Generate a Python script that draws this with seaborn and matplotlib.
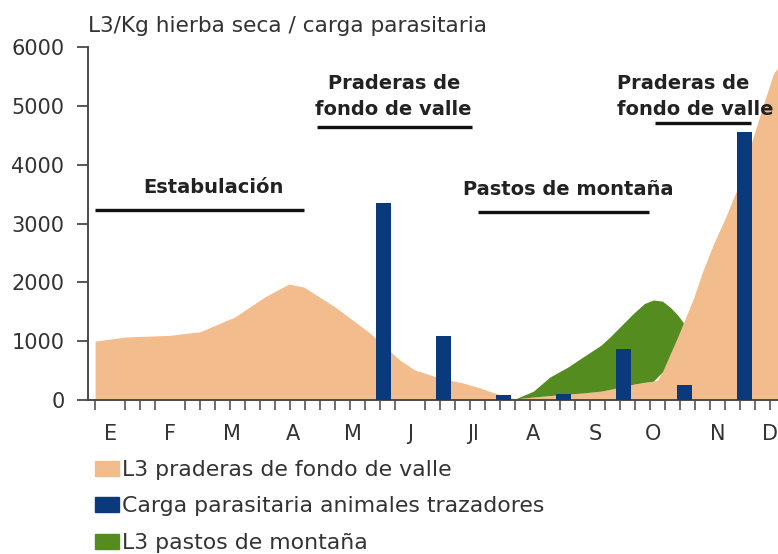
import matplotlib
matplotlib.use("Agg")
import matplotlib.pyplot as plt
import matplotlib.patches as mpatches
import seaborn as sns
import numpy as np

# ---- data (x in weeks from start of January) ----
months = ["E", "F", "M", "A", "M", "J", "Jl", "A", "S", "O", "N", "D"]
month_pos = [1.0, 5.0, 9.1, 13.2, 17.2, 21.0, 25.2, 29.2, 33.3, 37.2, 41.5, 44.95]

valley_x = [0, 2, 5, 7, 9.3, 11.3, 12.9, 13.9, 16, 18.3, 20.3, 21.3, 23, 24.5, 25.7,
            27, 28, 29.2, 31.5, 33.7, 35.9, 37.2, 37.5, 38.3, 39.2, 39.9, 40.5,
            41.2, 42.0, 42.8, 43.7, 44.5, 45.2, 45.5]
valley_y = [1000, 1070, 1100, 1160, 1410, 1750, 1970, 1920, 1580, 1140, 680, 510, 370, 290, 200,
            85, 20, 50, 100, 150, 270, 320, 340, 770, 1310, 1750, 2200,
            2650, 3100, 3600, 4350, 5000, 5550, 5650]

mountain_x = [28.0, 29.2, 30.3, 31.5, 32.5, 33.7, 34.3, 35.9, 36.6, 37.2, 37.8, 38.3, 38.8, 39.2]
mountain_hi = [20, 150, 390, 560, 730, 930, 1070, 1480, 1640, 1700, 1680, 1580, 1450, 1310]
mountain_lo = [20, 50, 75, 100, 120, 150, 180, 270, 300, 320, 480, 770, 1060, 1310]

bar_x = [19.2, 23.2, 27.2, 31.2, 35.2, 39.3, 43.3]
bar_y = [3350, 1080, 80, 100, 870, 260, 4560]

yticks = [0, 1000, 2000, 3000, 4000, 5000, 6000]

labels_legend = ["L3 praderas de fondo de valle",
                 "Carga parasitaria animales trazadores",
                 "L3 pastos de montaña"]

periods = [
    # (text, text_x, text_y, ha, line_x0, line_x1, line_y)
    ("Estabulación", 7.9, 3520, "center", 0.0, 13.9, 3230),
    ("Praderas de\nfondo de valle", 19.9, 4840, "center", 14.8, 25.1, 4640),
    ("Pastos de montaña", 31.5, 3490, "center", 25.5, 36.9, 3200),
    ("Praderas de\nfondo de valle", 34.8, 4840, "left", 37.3, 43.7, 4710),
]

c_orange = "#F2BC8C"
c_navy = "#0A3A7C"
c_green = "#558C1F"
c_axis = "#4a4a4a"

sns.set_style("white")
plt.rcParams["font.family"] = ["DejaVu Sans"]

fig = plt.figure(figsize=(7.78, 5.54), dpi=100)
ax = fig.add_axes([88 / 778, 1 - 400 / 554, 1 - 88 / 778, (400 - 47) / 554])

ax.fill_between(valley_x, 0, valley_y, color=c_orange, lw=0, zorder=1)
ax.fill_between(mountain_x, mountain_lo, mountain_hi, color=c_green, lw=0, zorder=2)
sns.barplot(x=bar_x, y=bar_y, native_scale=True, width=0.25, color=c_navy,
            saturation=1, errorbar=None, ax=ax, zorder=3, linewidth=0,
            edgecolor=c_navy)

for txt, tx, ty, ha, x0, x1, ly in periods:
    ax.text(tx, ty, txt, ha=ha, va="baseline", fontsize=14, fontweight="bold",
            color="#222222", linespacing=1.45, multialignment=ha, zorder=5)
    ax.plot([x0, x1], [ly, ly], color="#111111", lw=2.4, solid_capstyle="butt", zorder=5)

ax.set_xlim(-0.47, 45.5)
ax.set_ylim(0, 6000)
ax.set_yticks(yticks)
ax.set_yticklabels([str(v) for v in yticks], fontsize=15, color="#333333")
ax.set_xticks(month_pos)
ax.set_xticklabels(months, fontsize=15, color="#333333")
ax.set_xticks(np.arange(0, 46), minor=True)
ax.tick_params(axis="x", which="major", length=0, pad=17, bottom=True)
ax.tick_params(axis="x", which="minor", length=7, width=1.2, color="#555555",
               direction="out", bottom=True)
ax.tick_params(axis="y", which="major", length=8, width=1.3, color=c_axis, pad=9, left=True)
ax.set_xlabel("")
ax.set_ylabel("")

for s in ["top", "right"]:
    ax.spines[s].set_visible(False)
for s in ["left", "bottom"]:
    ax.spines[s].set_color(c_axis)
    ax.spines[s].set_linewidth(1.4)

fig.text(88 / 778, 1 - 32 / 554, "L3/Kg hierba seca / carga parasitaria",
         fontsize=15.6, color="#333333", ha="left", va="baseline")

handles = [mpatches.Patch(color=c_orange), mpatches.Patch(color=c_navy),
           mpatches.Patch(color=c_green)]
fig.legend(handles, labels_legend, loc="upper left",
           bbox_to_anchor=(95 / 778, 1 - 460 / 554), frameon=False,
           fontsize=15.8, handlelength=1.1, handleheight=0.7, handletextpad=0.15,
           labelspacing=0.75, borderpad=0, borderaxespad=0,
           labelcolor="#333333")

fig.savefig("out.png", dpi=100)
